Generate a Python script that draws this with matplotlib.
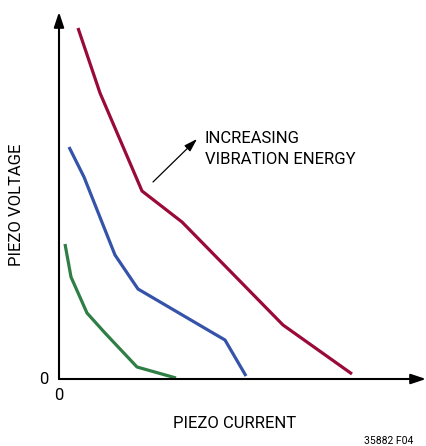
import matplotlib.pyplot as plt

# curves (arbitrary units, origin at the axes corner)
red_x = [19, 41, 83, 123, 224, 293]
red_y = [351, 286, 188, 157, 54, 5]
blue_x = [10, 25, 56, 79, 154, 166, 187]
blue_y = [232, 202, 124, 90, 46, 39, 3]
green_x = [6, 12, 28, 46, 78, 117]
green_y = [135, 102, 66, 46, 12, 1]

x_label = "PIEZO CURRENT"
y_label = "PIEZO VOLTAGE"
note = "INCREASING\nVIBRATION ENERGY"
fig_id = "35882 F04"

plt.rcParams['font.family'] = ['Roboto', 'DejaVu Sans']

fig = plt.figure(figsize=(4.26, 4.46), dpi=100)
ax = fig.add_axes([59 / 426, 67 / 446, 367 / 426, 367 / 446])
ax.set_xlim(0, 367)
ax.set_ylim(0, 367)
ax.axis('off')

ax.plot(red_x, red_y, color='#9a0a38', lw=2.3, solid_capstyle='butt')
ax.plot(blue_x, blue_y, color='#3553a8', lw=2.3, solid_capstyle='butt')
ax.plot(green_x, green_y, color='#2e7e45', lw=2.3, solid_capstyle='butt')

# axes with arrow heads
arrow = dict(arrowstyle='-|>,head_length=0.9,head_width=0.3', color='black', lw=1.5,
             shrinkA=0, shrinkB=0)
ax.annotate('', xy=(0, 1), xytext=(0, 0), xycoords='axes fraction', arrowprops=arrow,
            annotation_clip=False)
ax.annotate('', xy=(1, 0), xytext=(0, 0), xycoords='axes fraction', arrowprops=arrow,
            annotation_clip=False)

# annotation arrow
ax.annotate('', xy=(138, 240), xytext=(94, 197),
            arrowprops=dict(arrowstyle='-|>,head_length=0.8,head_width=0.25',
                            color='black', lw=0.9, shrinkA=0, shrinkB=0))
ax.text(146, 230, note, fontsize=12, va='center', ha='left', linespacing=1.45)

ax.text(-10, -1, "0", fontsize=12, ha='right', va='center')
ax.text(0, -17, "0", fontsize=12, ha='center', va='center')

fig.text(235 / 426, 1 - 423 / 446, x_label, fontsize=12, ha='center', va='center')
fig.text(17 / 426, 1 - 205 / 446, y_label, fontsize=12, ha='center', va='center',
         rotation=90)
fig.text(389 / 426, 1 - 441 / 446, fig_id, fontsize=7.5, ha='center', va='center')

fig.savefig('out.png', dpi=100)
